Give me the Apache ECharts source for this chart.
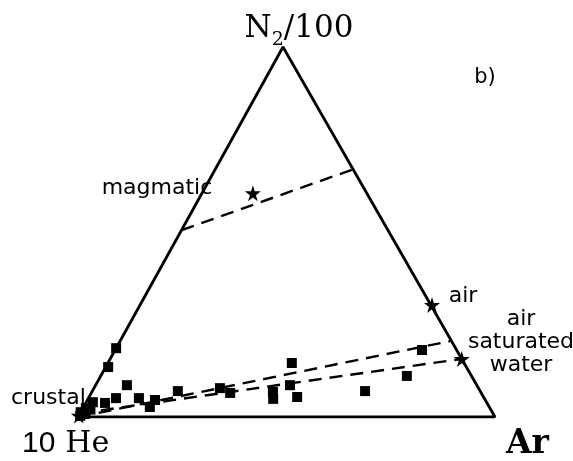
<!DOCTYPE html>
<html>
<head>
<meta charset="utf-8">
<script src="https://cdn.jsdelivr.net/npm/echarts@6/dist/echarts.min.js"></script>
<style>html,body{margin:0;padding:0;background:#fff}#c{width:573px;height:461px}</style>
</head>
<body>
<div id="c"></div>
<script>
// Ternary compositions as [N2/100 fraction, Ar fraction]; 10He = 1 - both
const vertices = { He: [0, 0], N2: [1, 0], Ar: [0, 1] };
const samples = [
  [0.186, 0.000], [0.135, 0.006], [0.086, 0.075], [0.040, 0.016], [0.038, 0.046],
  [0.051, 0.066], [0.051, 0.121], [0.027, 0.159], [0.046, 0.162], [0.070, 0.205],
  [0.078, 0.302], [0.065, 0.333], [0.068, 0.434], [0.049, 0.444], [0.146, 0.441],
  [0.086, 0.466], [0.054, 0.499], [0.070, 0.654], [0.111, 0.734], [0.181, 0.736],
  [0.013, 0.000], [0.024, 0.007], [0.003, 0.004], [0.020, 0.020], [0.008, 0.012]
];
const endMembers = [
  [0.605, 0.122],  // magmatic
  [0.303, 0.700],  // air
  [0.157, 0.843],  // air saturated water
  [0.004, 0.000]   // crustal
];
const mixLineMagmatic = [[0.505, 0.000], [0.668, 0.328]];
const mixLineUpper = [[0.000, 0.000], [0.205, 0.791]];
const mixLineLower = [[0.010, 0.000], [0.157, 0.843]];

const APEX_X = 205 / 417;
const toXY = p => [p[1] + p[0] * APEX_X, p[0]];

const triangle = [vertices.He, vertices.Ar, vertices.N2, vertices.He].map(toXY);
const STAR = 'path://M50,0 L61,35 L98,35 L68,57 L79,91 L50,70 L21,91 L32,57 L2,35 L39,35 Z';
const dashed = { color: '#000', width: 2.4, type: [13, 8], opacity: 1 };

function txt(x, y, text, size, extra) {
  return { type: 'text', x: x, y: y, style: Object.assign({
    text: text, fontSize: size, fontFamily: 'DejaVu Sans', fill: '#000',
    align: 'center', verticalAlign: 'middle' }, extra || {}) };
}

const chart = echarts.init(document.getElementById('c'));
chart.setOption({
  animation: false,
  grid: { left: 78, right: 78, top: 47, bottom: 44 },
  xAxis: { type: 'value', min: 0, max: 1, show: false },
  yAxis: { type: 'value', min: 0, max: 1, show: false },
  series: [
    { type: 'line', data: triangle, symbol: 'none', lineStyle: { color: '#000', width: 2.8, opacity: 1 }, silent: true },
    { type: 'line', data: mixLineMagmatic.map(toXY), symbol: 'none', lineStyle: dashed, silent: true },
    { type: 'line', data: mixLineUpper.map(toXY), symbol: 'none', lineStyle: dashed, silent: true },
    { type: 'line', data: mixLineLower.map(toXY), symbol: 'none', lineStyle: dashed, silent: true },
    { type: 'scatter', data: samples.map(toXY), symbol: 'rect', symbolSize: 10, itemStyle: { color: '#000', opacity: 1 }, silent: true },
    { type: 'scatter', data: endMembers.map(toXY), symbol: STAR, symbolSize: 16, itemStyle: { color: '#000', opacity: 1 }, silent: true }
  ],
  graphic: [
    { type: 'text', x: 299, y: 29, style: {
      text: '{n|N}{s|2}{n|/100}', align: 'center', verticalAlign: 'middle',
      rich: {
        n: { fontFamily: 'DejaVu Serif', fontSize: 31, fill: '#000', verticalAlign: 'bottom' },
        s: { fontFamily: 'DejaVu Serif', fontSize: 19, fill: '#000', padding: [0, 0, -5, 0], verticalAlign: 'bottom' }
      } } },
    txt(485, 78, 'b)', 21),
    txt(157, 188, 'magmatic', 22),
    txt(463, 296, 'air', 22),
    txt(521, 342, 'air\nsaturated\nwater', 22, { lineHeight: 23 }),
    txt(11, 398, 'crustal', 22, { align: 'left' }),
    { type: 'text', x: 22, y: 444, style: {
      text: '{a|10}{b|He}', align: 'left', verticalAlign: 'middle',
      rich: {
        a: { fontFamily: 'Liberation Sans', fontSize: 30, fill: '#000', padding: [0, 10, 0, 0] },
        b: { fontFamily: 'DejaVu Serif', fontSize: 30, fill: '#000' }
      } } },
    txt(549, 444, 'Ar', 33, { align: 'right', fontFamily: 'DejaVu Serif', fontWeight: 'bold' })
  ]
});
</script>
</body>
</html>
